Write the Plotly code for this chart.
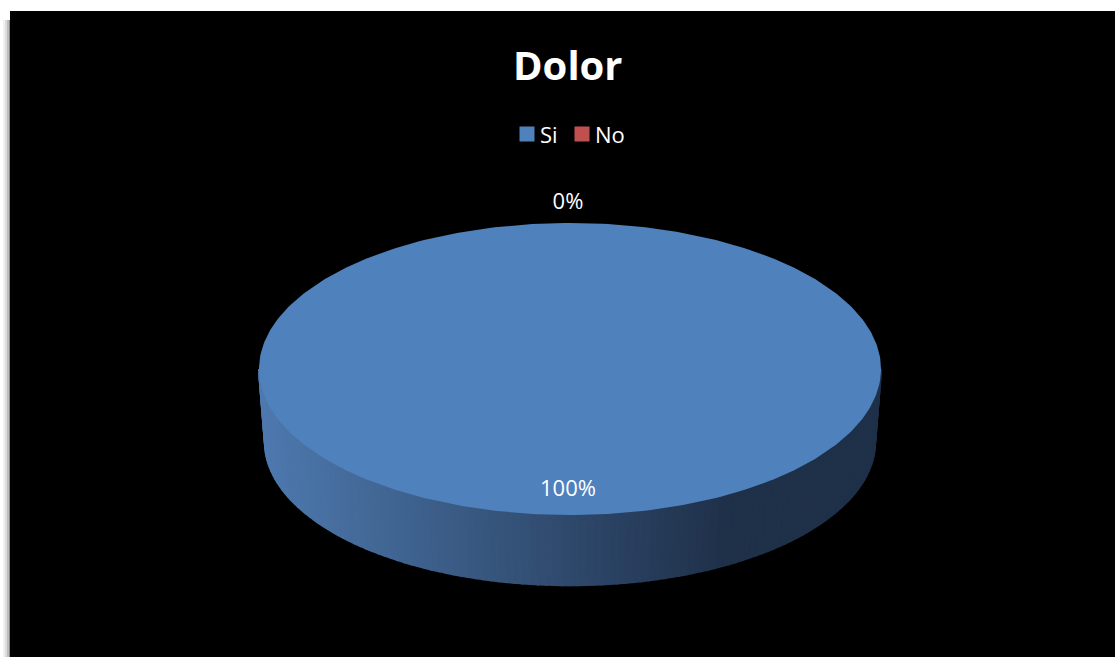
import numpy as np
import plotly.graph_objects as go

# ---- data ----
title = "Dolor"
categories = ["Si", "No"]
values = [100, 0]
colors = ["#4F81BD", "#C0504D"]

# ---- layout constants (pixel space) ----
W, H = 1115, 657
CX, CY = 570, 369
RX, RY = 311, 146
DEPTH = 73
BOT_SCALE = 0.981
FONT = "Open Sans"

fig = go.Figure()

total = float(sum(values))
shares = [v / total for v in values]
starts = np.cumsum([0] + shares[:-1]) * 360.0


def top_pt(theta_deg, scale=1.0):
    t = np.radians(theta_deg)
    return CX + RX * scale * np.sin(t), CY - RY * scale * np.cos(t)


def bot_pt(theta_deg):
    t = np.radians(theta_deg)
    return CX + RX * BOT_SCALE * np.sin(t), CY + DEPTH - RY * BOT_SCALE * np.cos(t)


def side_color(xpos):
    f = (xpos - (CX - RX + 5)) / (0.75 * 2 * RX)
    f = min(max(f, 0), 1)
    c0 = np.array([78, 121, 174])
    c1 = np.array([31, 48, 73])
    c = c0 + (c1 - c0) * f
    return "rgb(%d,%d,%d)" % tuple(c)


# side walls (front half: 90..270 degrees clockwise from top)
for s, share, col in zip(starts, shares, colors):
    if share <= 0:
        continue
    a, b = s, s + share * 360
    lo, hi = max(a, 90), min(b, 270)
    if hi <= lo:
        continue
    n = max(2, int((hi - lo) / 1.5))
    th = np.linspace(lo, hi, n + 1)
    for t1, t2 in zip(th[:-1], th[1:]):
        x1, y1 = top_pt(t1)
        x2, y2 = top_pt(t2)
        bx1, by1 = bot_pt(t1)
        bx2, by2 = bot_pt(t2)
        c = side_color((x1 + x2) / 2)
        fig.add_trace(go.Scatter(
            x=[x1, x2, bx2, bx1, x1], y=[y1, y2, by2, by1, y1],
            mode="lines", fill="toself", fillcolor=c,
            line=dict(color=c, width=2), hoverinfo="skip", showlegend=False))

# top faces
for s, share, col, name in zip(starts, shares, colors, categories):
    if share <= 0:
        continue
    th = np.linspace(s, s + share * 360, 361)
    xs, ys = top_pt(th)
    if share < 1:
        xs = np.concatenate([[CX], xs, [CX]])
        ys = np.concatenate([[CY], ys, [CY]])
    fig.add_trace(go.Scatter(
        x=xs, y=ys, mode="lines", fill="toself", fillcolor=col,
        line=dict(color=col, width=0), name=name, showlegend=False,
        hoverinfo="name"))

# data labels
lx, ly, lt = [], [], []
for s, share in zip(starts, shares):
    mid = s + share * 180
    if share > 0.5:
        x, y = top_pt(mid, 0.83)
    else:
        x, y = top_pt(mid, 1.0)
        y -= 20
    lx.append(x - 2)
    ly.append(y)
    lt.append("%d%%" % round(share * 100))
fig.add_trace(go.Scatter(x=lx, y=ly, text=lt, mode="text",
                         textfont=dict(family=FONT, size=22, color="white"),
                         hoverinfo="skip", showlegend=False))

# legend (manual, to match spacing)
leg_y = 134
leg_x = [527, 582]
fig.add_trace(go.Scatter(x=leg_x, y=[leg_y, leg_y], mode="markers",
                         marker=dict(symbol="square", size=15, color=colors,
                                     line=dict(width=0)),
                         hoverinfo="skip", showlegend=False))
for x, name in zip(leg_x, categories):
    fig.add_annotation(x=x + 11, y=leg_y, text=name, showarrow=False,
                       xanchor="left", yanchor="middle",
                       font=dict(family=FONT, size=22, color="white"))

# title
fig.add_annotation(x=568, y=64, text="<b>%s</b>" % title, showarrow=False,
                   xanchor="center", yanchor="middle",
                   font=dict(family=FONT, size=40, color="white"))

# background: black chart area with soft left shadow
shapes = []
for x0, c in [(3, "#f0f0f0"), (5, "#dcdcdc"), (7, "#bdbdbd"), (9, "#8a8a8a")]:
    shapes.append(dict(type="rect", xref="x", yref="y", x0=x0, x1=x0 + 2,
                       y0=20, y1=H, fillcolor=c, line=dict(width=0), layer="below"))
shapes.append(dict(type="rect", xref="x", yref="y", x0=10, x1=W, y0=11, y1=H,
                   fillcolor="black", line=dict(width=0), layer="below"))

fig.update_layout(
    width=W, height=H,
    margin=dict(l=0, r=0, t=0, b=0),
    paper_bgcolor="white", plot_bgcolor="white",
    xaxis=dict(range=[0, W], visible=False, fixedrange=True),
    yaxis=dict(range=[H, 0], visible=False, fixedrange=True),
    shapes=shapes,
    showlegend=False,
)

fig.write_html("out.html")
